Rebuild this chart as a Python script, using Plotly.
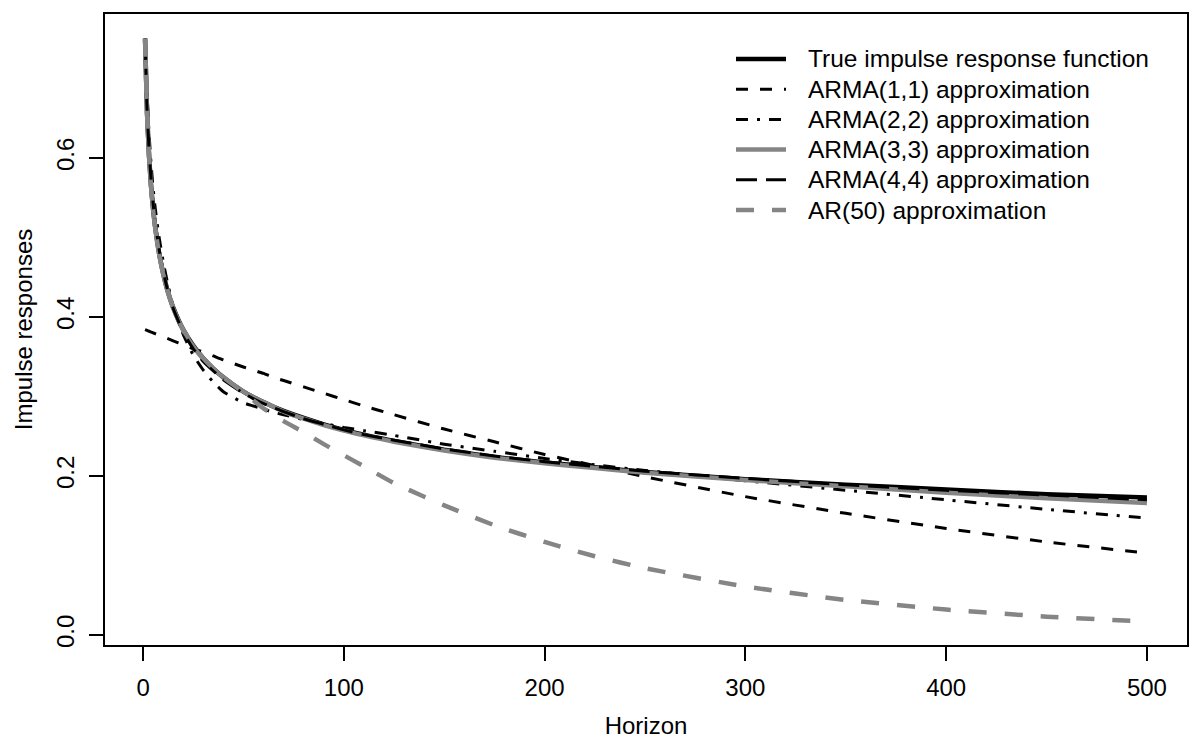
import plotly.graph_objects as go

horizon = [1, 2, 3, 4, 5, 6, 8, 10, 12, 15, 20, 25, 30, 35, 40, 50, 55, 60, 65, 70,
           80, 90, 100, 110, 125, 150, 175, 200, 225, 250, 300, 350, 400, 450, 500]

true_irf = [0.750, 0.656, 0.602, 0.564, 0.536, 0.514, 0.480, 0.455, 0.435, 0.412,
            0.384, 0.364, 0.348, 0.335, 0.324, 0.306, 0.299, 0.293, 0.287, 0.282,
            0.273, 0.265, 0.258, 0.252, 0.244, 0.233, 0.224, 0.217, 0.211, 0.205,
            0.196, 0.189, 0.183, 0.177, 0.173]

arma11 = [0.384, 0.383, 0.382, 0.381, 0.380, 0.379, 0.377, 0.375, 0.373, 0.370,
          0.365, 0.360, 0.356, 0.351, 0.346, 0.337, 0.333, 0.329, 0.324, 0.320,
          0.312, 0.304, 0.296, 0.288, 0.277, 0.259, 0.243, 0.227, 0.213, 0.199,
          0.174, 0.153, 0.134, 0.117, 0.103]

arma22 = [0.750, 0.680, 0.630, 0.592, 0.562, 0.538, 0.500, 0.470, 0.445, 0.413,
          0.378, 0.352, 0.333, 0.318, 0.306, 0.292, 0.288, 0.284, 0.280, 0.277,
          0.271, 0.266, 0.261, 0.257, 0.251, 0.240, 0.231, 0.222, 0.214, 0.207,
          0.194, 0.182, 0.170, 0.158, 0.147]

arma33 = [0.750, 0.655, 0.601, 0.563, 0.535, 0.513, 0.479, 0.454, 0.434, 0.411,
          0.383, 0.363, 0.347, 0.335, 0.324, 0.306, 0.299, 0.293, 0.287, 0.281,
          0.272, 0.264, 0.257, 0.251, 0.243, 0.232, 0.223, 0.216, 0.210, 0.204,
          0.195, 0.187, 0.179, 0.172, 0.166]

arma44 = [0.750, 0.660, 0.610, 0.572, 0.543, 0.520, 0.485, 0.458, 0.436, 0.411,
          0.381, 0.360, 0.344, 0.332, 0.321, 0.304, 0.297, 0.291, 0.286, 0.281,
          0.272, 0.265, 0.258, 0.252, 0.245, 0.234, 0.225, 0.218, 0.212, 0.206,
          0.197, 0.189, 0.182, 0.176, 0.170]

ar50 = [0.750, 0.656, 0.602, 0.564, 0.536, 0.514, 0.480, 0.455, 0.435, 0.412,
        0.384, 0.364, 0.348, 0.335, 0.324, 0.305, 0.295, 0.285, 0.277, 0.269,
        0.255, 0.240, 0.226, 0.212, 0.191, 0.163, 0.138, 0.117, 0.099, 0.084,
        0.061, 0.044, 0.032, 0.023, 0.017]

series_names = ["True impulse response function", "ARMA(1,1) approximation",
                "ARMA(2,2) approximation", "ARMA(3,3) approximation",
                "ARMA(4,4) approximation", "AR(50) approximation"]

x_ticks = [0, 100, 200, 300, 400, 500]
y_ticks = [0.0, 0.2, 0.4, 0.6]
y_tick_text = ["0.0", "0.2", "0.4", "0.6"]

GREY = "#858585"
styles = [
    dict(color="black", width=4.5, dash="solid"),
    dict(color="black", width=3, dash="12px,12px"),
    dict(color="black", width=3, dash="12px,9px,3px,9px"),
    dict(color=GREY, width=4.5, dash="solid"),
    dict(color="black", width=3, dash="21px,9px"),
    dict(color=GREY, width=4.5, dash="18px,18px"),
]
data = [true_irf, arma11, arma22, arma33, arma44, ar50]

fig = go.Figure()
for name, y, st in zip(series_names, data, styles):
    fig.add_trace(go.Scatter(x=horizon, y=y, mode="lines", name=name,
                             line=dict(shape="spline", smoothing=0.5, **st)))

# Legend (R-style, no box), drawn in paper coordinates
PLOT_L, PLOT_R, PLOT_T, PLOT_B = 105, 1187, 14, 645
def px_x(p):
    return (p - PLOT_L) / (PLOT_R - PLOT_L)
def px_y(p):
    return (PLOT_B - p) / (PLOT_B - PLOT_T)

row0, row_gap = 59, 30.2
for i, (name, st) in enumerate(zip(series_names, styles)):
    yy = px_y(row0 + i * row_gap)
    fig.add_shape(type="line", xref="paper", yref="paper",
                  x0=px_x(736), x1=px_x(786), y0=yy, y1=yy,
                  line=dict(color=st["color"], width=st["width"], dash=st["dash"]))
    fig.add_annotation(xref="paper", yref="paper", x=px_x(806), y=yy,
                       xanchor="left", yanchor="middle", showarrow=False,
                       text=name, font=dict(size=24.5, color="black"))

FONT = "Liberation Sans, Arial, Helvetica, sans-serif"
fig.update_layout(
    width=1200, height=750,
    margin=dict(l=PLOT_L, r=1200 - PLOT_R, t=PLOT_T, b=750 - PLOT_B),
    paper_bgcolor="white", plot_bgcolor="white",
    font=dict(family=FONT, size=24, color="black"),
    showlegend=False,
    xaxis=dict(range=[-18.96, 519.96], tickvals=x_ticks, ticks="outside",
               ticklen=14, tickwidth=1.5, tickcolor="black",
               tickfont=dict(size=24),
               showline=True, mirror=True, linecolor="black", linewidth=1.5,
               showgrid=False, zeroline=False,
               title=dict(text="Horizon", standoff=18, font=dict(size=24)),
               ticklabelstandoff=6),
    yaxis=dict(range=[-0.0126, 0.781], tickvals=y_ticks, ticktext=y_tick_text,
               ticks="outside", ticklen=14, tickwidth=1.5, tickcolor="black",
               tickangle=-90, tickfont=dict(size=24),
               showline=True, mirror=True, linecolor="black", linewidth=1.5,
               showgrid=False, zeroline=False,
               title=dict(text="Impulse responses", standoff=12, font=dict(size=24)),
               ticklabelstandoff=6),
)

fig.write_html("out.html")
